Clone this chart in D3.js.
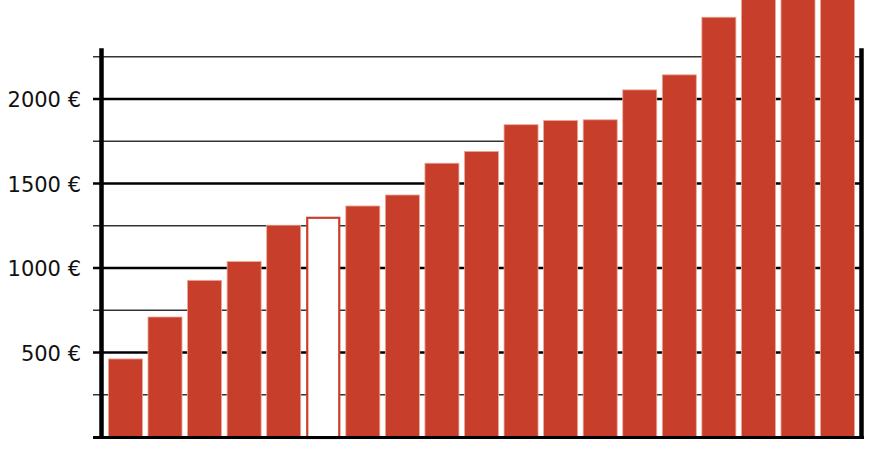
<!DOCTYPE html>
<html>
<head>
<meta charset="utf-8">
<script src="https://cdn.jsdelivr.net/npm/d3@7"></script>
<style>
  html, body { margin: 0; padding: 0; background: #fff; }
  svg { display: block; }
</style>
</head>
<body>
<svg id="chart" width="872" height="458"></svg>
<script>
const categories = ["1","2","3","4","5","6","7","8","9","10","11","12","13","14","15","16","17","18","19"];
const values = [462, 710, 927, 1038, 1253, 1303, 1367, 1432, 1620, 1690, 1848, 1873, 1877, 2054, 2143, 2484, 2650, 2700, 2750];
const highlighted = ["6"];
const majorTicks = [500, 1000, 1500, 2000];
const minorTicks = [250, 750, 1250, 1750, 2250];
const tickLabels = ["500 €", "1000 €", "1500 €", "2000 €"];

const svg = d3.select("#chart");
const left = 101.5, right = 861.5;

const y = d3.scaleLinear().domain([0, 2000]).range([437, 99]);
const x = d3.scaleBand().domain(categories).range([left, right]).paddingInner(0.14).paddingOuter(0.175);

// minor gridlines
svg.append("g").selectAll("line").data(minorTicks).join("line")
  .attr("x1", 93).attr("x2", right)
  .attr("y1", d => y(d)).attr("y2", d => y(d))
  .attr("stroke", "#333").attr("stroke-width", 1.6);

// major gridlines
svg.append("g").selectAll("line").data(majorTicks).join("line")
  .attr("x1", 93).attr("x2", right)
  .attr("y1", d => y(d)).attr("y2", d => y(d))
  .attr("stroke", "#000").attr("stroke-width", 2.6);

// bars
svg.append("g").selectAll("rect").data(categories).join("rect")
  .attr("x", d => x(d) + (highlighted.includes(d) ? 1 : 0))
  .attr("width", d => x.bandwidth() - (highlighted.includes(d) ? 2 : 0))
  .attr("y", (d, i) => y(values[i]) + (highlighted.includes(d) ? 1 : 0))
  .attr("height", (d, i) => y(0) - y(values[i]))
  .attr("fill", d => highlighted.includes(d) ? "#fff" : "#c73f2a")
  .attr("stroke", d => highlighted.includes(d) ? "#c73f2a" : "#eea999")
  .attr("stroke-width", d => highlighted.includes(d) ? 2.2 : 0.8);

// axes lines
const axY = d3.scaleLinear().domain([0, 2300]).range([y(0), y(2300)]);
svg.append("line").attr("x1", left).attr("x2", left)
  .attr("y1", axY(2300)).attr("y2", 439).attr("stroke", "#000").attr("stroke-width", 4.5);
svg.append("line").attr("x1", right).attr("x2", right)
  .attr("y1", axY(2300)).attr("y2", 439).attr("stroke", "#000").attr("stroke-width", 4.5);
svg.append("line").attr("x1", 93).attr("x2", 864)
  .attr("y1", y(0) + 0.5).attr("y2", y(0) + 0.5).attr("stroke", "#000").attr("stroke-width", 3);

// tick labels
const axis = d3.axisLeft(y).tickValues(majorTicks)
  .tickFormat((d, i) => tickLabels[i]).tickSize(0).tickPadding(0);
const ag = svg.append("g").attr("transform", `translate(81,0)`).call(axis);
ag.select(".domain").remove();
ag.selectAll("text")
  .attr("font-family", "DejaVu Sans, sans-serif")
  .attr("font-size", 21)
  .attr("fill", "#111")
  .attr("dy", "0.36em");
</script>
</body>
</html>
